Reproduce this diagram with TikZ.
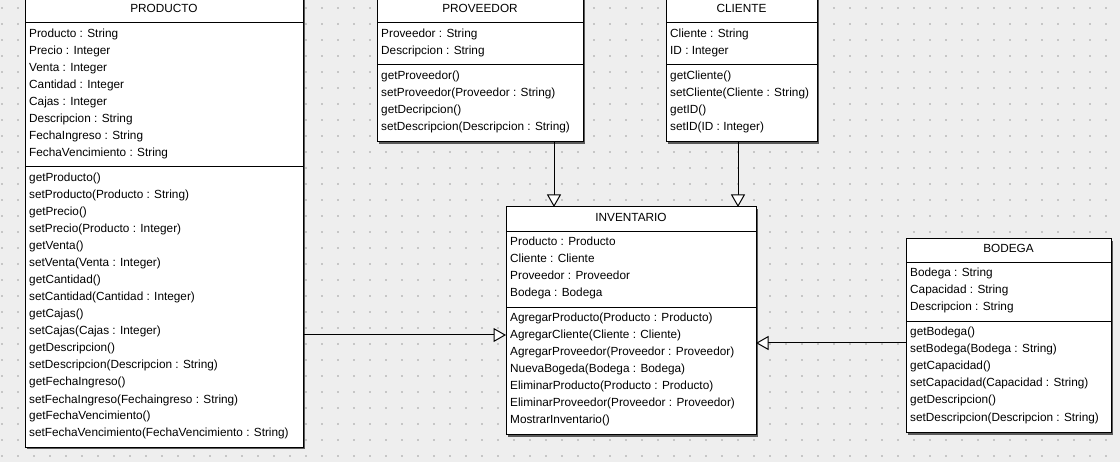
\documentclass[tikz,border=0pt]{standalone}
\usepackage{fontspec}
\setmainfont{Liberation Sans}
\usetikzlibrary{arrows.meta}
\definecolor{bgcol}{HTML}{EEEEEE}
\definecolor{dotcol}{HTML}{C6C6C6}
\definecolor{shadowcol}{HTML}{5A5A5A}
\tikzset{
  classbox/.style={draw=black, fill=white, line width=1pt, inner sep=0pt, outer sep=0pt, anchor=north west},
  shadowbox/.style={fill=shadowcol, draw=none},
  seprule/.style={draw=black, line width=1pt},
  txt/.style={font=\fontsize{11.8}{14}\selectfont, inner sep=0pt, anchor=base west},
  ttl/.style={font=\fontsize{11.8}{14}\selectfont, inner sep=0pt, anchor=base},
  inh/.style={draw=black, line width=1pt, -{Triangle[open, length=12.5pt, width=14pt, fill=white]}}
}
% #1 name, #2 x1, #3 ytop, #4 width, #5 height, #6 sep1, #7 sep2, #8 title
\newcommand\umlcls[8]{%
  \fill[shadowcol] (#2+2,#3+2) rectangle ++(#4,#5);
  \node[classbox, minimum width=#4pt, minimum height=#5pt] (#1) at (#2,#3) {};
  \draw[seprule] (#2,#6) -- ++(#4,0);
  \draw[seprule] (#2,#7) -- ++(#4,0);
  \node[ttl] (#1-title) at (#2+#4/2,#6-10) {#8};
}
% #1 name prefix, #2 x, #3 first baseline, #4 list
\newcommand\umllines[4]{%
  \foreach \t [count=\i] in {#4} {
    \node[txt] (#1\i) at (#2+4,#3+17*\i-17) {\t};
  }
}
\begin{document}
\begin{tikzpicture}[x=1pt,y=-1pt]
\useasboundingbox (0,0) rectangle (1120,462);
\fill[bgcol] (0,0) rectangle (1120,462);
\foreach \gx in {0,...,69} {
  \foreach \gy in {0,...,28} {
    \fill[dotcol] (2+16*\gx-0.6,8+16*\gy-0.6) rectangle ++(1.2,1.2);
  }
}
% PRODUCTO
\umlcls{prod}{25}{-2}{278}{449}{23}{167}{PRODUCTO}
\umllines{prod-a}{25}{38}{Producto : String,Precio : Integer,Venta : Integer,Cantidad : Integer,Cajas : Integer,Descripcion : String,FechaIngreso : String,FechaVencimiento : String}
\umllines{prod-m}{25}{182}{getProducto(),setProducto(Producto : String),getPrecio(),setPrecio(Producto : Integer),getVenta(),setVenta(Venta : Integer),getCantidad(),setCantidad(Cantidad : Integer),getCajas(),setCajas(Cajas : Integer),getDescripcion(),setDescripcion(Descripcion : String),getFechaIngreso(),setFechaIngreso(Fechaingreso : String),getFechaVencimiento(),setFechaVencimiento(FechaVencimiento : String)}
% PROVEEDOR
\umlcls{prov}{377}{-2}{206}{144}{23}{65}{PROVEEDOR}
\umllines{prov-a}{377}{38}{Proveedor : String,Descripcion : String}
\umllines{prov-m}{377}{80}{getProveedor(),setProveedor(Proveedor : String),getDecripcion(),setDescripcion(Descripcion : String)}
% CLIENTE
\umlcls{cli}{666}{-2}{151}{144}{23}{65}{CLIENTE}
\umllines{cli-a}{666}{38}{Cliente : String,ID : Integer}
\umllines{cli-m}{666}{80}{getCliente(),setCliente(Cliente : String),getID(),setID(ID : Integer)}
% INVENTARIO
\umlcls{inv}{506}{207}{250}{228}{232}{308}{INVENTARIO}
\umllines{inv-a}{506}{246}{Producto : Producto,Cliente : Cliente,Proveedor : Proveedor,Bodega : Bodega}
\umllines{inv-m}{506}{322}{AgregarProducto(Producto : Producto),AgregarCliente(Cliente : Cliente),AgregarProveedor(Proveedor : Proveedor),NuevaBogeda(Bodega : Bodega),EliminarProducto(Producto : Producto),EliminarProveedor(Proveedor : Proveedor),MostrarInventario()}
% BODEGA
\umlcls{bod}{906}{239}{205}{194}{263}{322}{BODEGA}
\umllines{bod-a}{906}{277}{Bodega : String,Capacidad : String,Descripcion : String}
\umllines{bod-m}{906}{336}{getBodega(),setBodega(Bodega : String),getCapacidad(),setCapacidad(Capacidad : String),getDescripcion(),setDescripcion(Descripcion : String)}
% connectors
\coordinate (provOut) at (554,142);
\coordinate (cliOut) at (738,142);
\coordinate (prodOut) at (303,335);
\coordinate (bodOut) at (906,343);
\draw[inh] (provOut) -- (provOut |- inv.north);
\draw[inh] (cliOut) -- (cliOut |- inv.north);
\draw[inh] (prodOut) -- (prodOut -| inv.west);
\draw[inh] (bodOut) -- (bodOut -| inv.east);
\end{tikzpicture}
\end{document}
